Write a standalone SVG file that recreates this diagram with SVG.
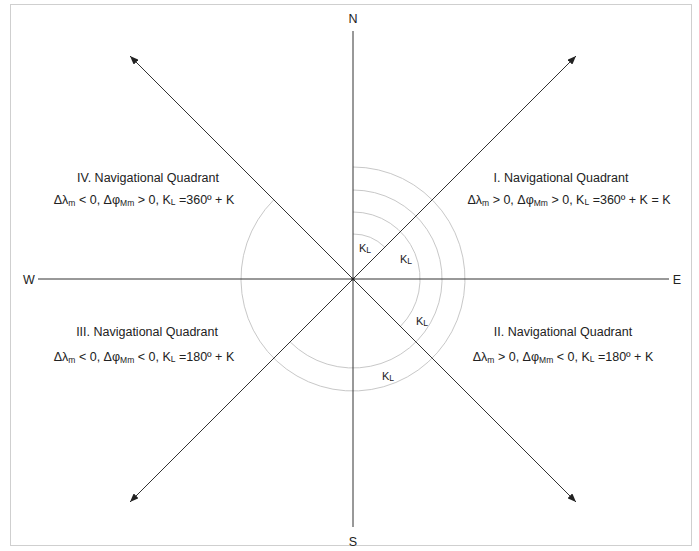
<svg xmlns="http://www.w3.org/2000/svg" width="699" height="551" viewBox="0 0 699 551">
<style>
text{font-family:"Liberation Sans",Arial,sans-serif;fill:#222;}
.lbl{font-size:12.5px;text-anchor:middle;}
.dir{font-size:12.5px;text-anchor:middle;}
.k{font-size:11px;}
.sub{font-size:8.5px;}
.axis{stroke:#333;stroke-width:1;fill:none;}
.arc{stroke:#c8c8c8;stroke-width:1;fill:none;}
</style>
<defs>
<marker id="ah" viewBox="0 0 10 8" refX="10" refY="4" markerWidth="9" markerHeight="7" markerUnits="userSpaceOnUse" orient="auto">
<path d="M0,0 L10,4 L0,8 Z" fill="#222"/>
</marker>
</defs>
<rect x="10.5" y="4.5" width="681" height="541" fill="#fff" stroke="#cfcfcf" stroke-width="1"/>
<g id="arcs">
<path class="arc" d="M353,234 A45,45 0 0 1 384.8,247.2"/>
<path class="arc" d="M353,212 A67,67 0 0 1 400.4,326.4"/>
<path class="arc" d="M353,190 A89,89 0 1 1 290.1,341.9"/>
<path class="arc" d="M353,167 A112,112 0 1 1 273.8,199.8"/>
</g>
<g id="connectors">
<line class="axis" x1="353" y1="31" x2="353" y2="527"/>
<line class="axis" x1="38" y1="279" x2="669" y2="279"/>
<line class="axis" x1="353" y1="279" x2="576" y2="56" marker-end="url(#ah)"/>
<line class="axis" x1="353" y1="279" x2="130" y2="56" marker-end="url(#ah)"/>
<line class="axis" x1="353" y1="279" x2="576" y2="502" marker-end="url(#ah)"/>
<line class="axis" x1="353" y1="279" x2="130" y2="502" marker-end="url(#ah)"/>
<circle cx="353" cy="279" r="1.6" fill="#222"/>
</g>
<g id="dir-N"><text class="dir" x="353" y="23">N</text></g>
<g id="dir-S"><text class="dir" x="353" y="546">S</text></g>
<g id="dir-W"><text class="dir" x="29" y="284">W</text></g>
<g id="dir-E"><text class="dir" x="677" y="284">E</text></g>
<g id="kl-labels">
<text class="k" x="359" y="252">K<tspan class="sub" dy="1">L</tspan></text>
<text class="k" x="400" y="263">K<tspan class="sub" dy="1">L</tspan></text>
<text class="k" x="416" y="325">K<tspan class="sub" dy="1">L</tspan></text>
<text class="k" x="382" y="380">K<tspan class="sub" dy="1">L</tspan></text>
</g>
<g id="quadrant-I">
<text class="lbl" x="561" y="182">I. Navigational Quadrant</text>
<text class="lbl" x="569" y="204">Δλ<tspan class="sub" dy="2">m</tspan><tspan dy="-2"> &gt; 0, Δφ</tspan><tspan class="sub" dy="2">Mm</tspan><tspan dy="-2"> &gt; 0, K</tspan><tspan class="sub" dy="1">L</tspan><tspan dy="-1"> =360º + K = K</tspan></text>
</g>
<g id="quadrant-II">
<text class="lbl" x="563" y="336">II. Navigational Quadrant</text>
<text class="lbl" x="563" y="361">Δλ<tspan class="sub" dy="2">m</tspan><tspan dy="-2"> &gt; 0, Δφ</tspan><tspan class="sub" dy="2">Mm</tspan><tspan dy="-2"> &lt; 0, K</tspan><tspan class="sub" dy="1">L</tspan><tspan dy="-1"> =180º + K</tspan></text>
</g>
<g id="quadrant-III">
<text class="lbl" x="147" y="336">III. Navigational Quadrant</text>
<text class="lbl" x="144" y="361">Δλ<tspan class="sub" dy="2">m</tspan><tspan dy="-2"> &lt; 0, Δφ</tspan><tspan class="sub" dy="2">Mm</tspan><tspan dy="-2"> &lt; 0, K</tspan><tspan class="sub" dy="1">L</tspan><tspan dy="-1"> =180º + K</tspan></text>
</g>
<g id="quadrant-IV">
<text class="lbl" x="148" y="182">IV. Navigational Quadrant</text>
<text class="lbl" x="144" y="204">Δλ<tspan class="sub" dy="2">m</tspan><tspan dy="-2"> &lt; 0, Δφ</tspan><tspan class="sub" dy="2">Mm</tspan><tspan dy="-2"> &gt; 0, K</tspan><tspan class="sub" dy="1">L</tspan><tspan dy="-1"> =360º + K</tspan></text>
</g>
</svg>
